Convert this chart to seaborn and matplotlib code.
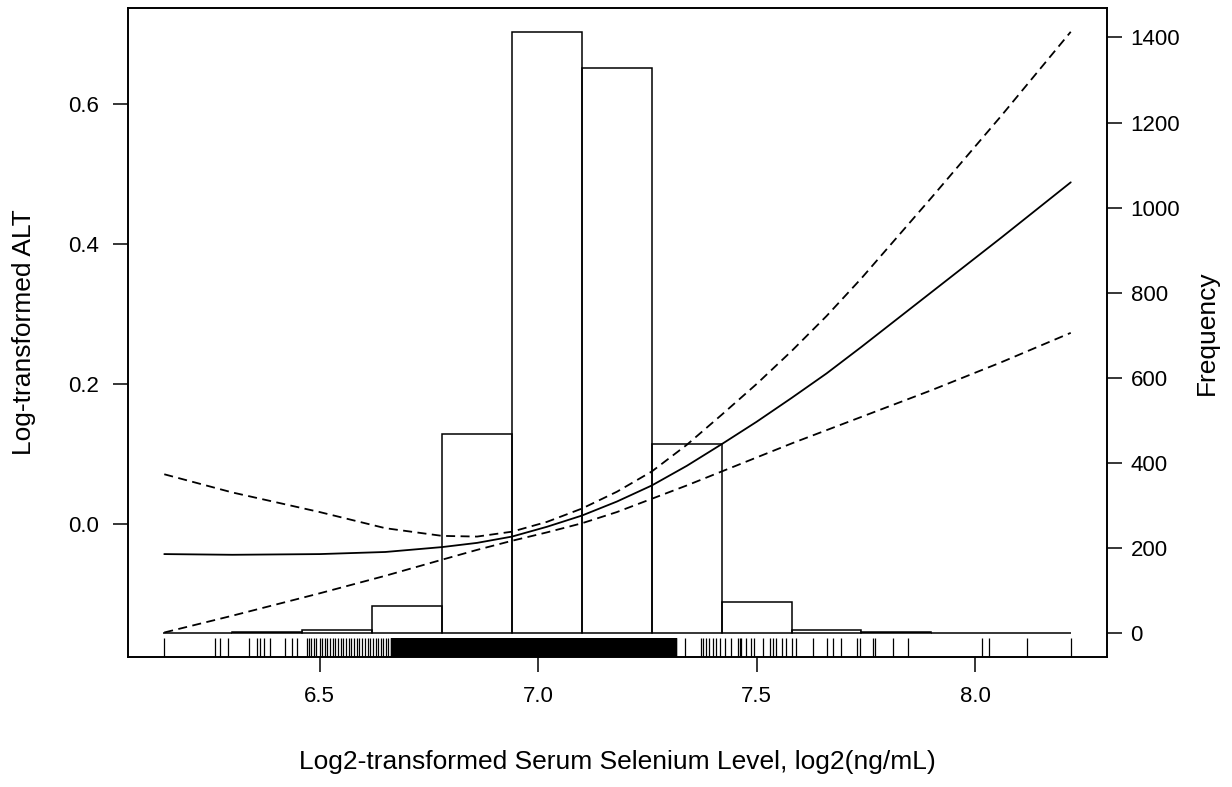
import matplotlib
matplotlib.use("Agg")
import matplotlib.pyplot as plt
import seaborn as sns

# fitted curve + 95% CI
selenium = [6.144, 6.30, 6.50, 6.65, 6.78, 6.86, 6.94, 7.02, 7.10, 7.18, 7.26,
            7.34, 7.42, 7.50, 7.58, 7.66, 7.74, 7.90, 8.06, 8.219]
alt_fit = [-0.043, -0.044, -0.043, -0.040, -0.033, -0.027, -0.018, -0.004, 0.012, 0.032, 0.055,
           0.083, 0.114, 0.146, 0.180, 0.215, 0.253, 0.331, 0.409, 0.488]
alt_upper = [0.071, 0.045, 0.017, -0.006, -0.017, -0.018, -0.011, 0.003, 0.022, 0.046, 0.075,
             0.113, 0.156, 0.200, 0.247, 0.297, 0.351, 0.466, 0.583, 0.703]
alt_lower = [-0.155, -0.131, -0.099, -0.074, -0.051, -0.037, -0.024, -0.012, 0.001, 0.017, 0.036,
             0.055, 0.075, 0.095, 0.115, 0.134, 0.153, 0.191, 0.231, 0.273]

# histogram of selenium (frequency, right axis)
bin_edges = [6.14, 6.30, 6.46, 6.62, 6.78, 6.94, 7.10, 7.26, 7.42, 7.58, 7.74, 7.90, 8.06, 8.22]
bin_counts = [2, 3, 9, 64, 469, 1412, 1329, 446, 74, 9, 3, 2, 2]

# rug: the solid black core and the single ticks in the tails
rug_core = [6.67, 6.68, 6.69, 6.70, 6.71, 6.72, 6.73, 6.74, 6.75, 6.76, 6.77, 6.78, 6.79,
            6.80, 6.81, 6.82, 6.83, 6.84, 6.85, 6.86, 6.87, 6.88, 6.89, 6.90, 6.91, 6.92,
            6.93, 6.94, 6.95, 6.96, 6.97, 6.98, 6.99, 7.00, 7.01, 7.02, 7.03, 7.04, 7.05,
            7.06, 7.07, 7.08, 7.09, 7.10, 7.11, 7.12, 7.13, 7.14, 7.15, 7.16, 7.17, 7.18,
            7.19, 7.20, 7.21, 7.22, 7.23, 7.24, 7.25, 7.26, 7.27, 7.28, 7.29, 7.30, 7.31]
rug_tail = [6.144, 6.261, 6.272, 6.291, 6.337, 6.356, 6.364, 6.373, 6.387, 6.421, 6.436, 6.447,
            6.470, 6.476, 6.481, 6.487, 6.492, 6.500, 6.505, 6.511, 6.517, 6.523, 6.530, 6.535,
            6.541, 6.548, 6.553, 6.560, 6.566, 6.571, 6.578, 6.585, 6.590, 6.596, 6.603, 6.610,
            6.616, 6.622, 6.628, 6.633, 6.640, 6.645, 6.652, 6.657, 6.662,
            7.316, 7.335, 7.373, 7.378, 7.385, 7.392, 7.400, 7.408, 7.415, 7.427, 7.442, 7.457,
            7.461, 7.465, 7.476, 7.488, 7.495, 7.514, 7.530, 7.537, 7.545, 7.557, 7.568, 7.580,
            7.591, 7.629, 7.660, 7.675, 7.694, 7.729, 7.736, 7.767, 7.771, 7.813, 7.847, 8.015,
            8.031, 8.119, 8.219]

sns.set_style("ticks")
plt.rcParams['font.family'] = ['Liberation Sans', 'DejaVu Sans']
plt.rcParams['axes.linewidth'] = 1.2
plt.rcParams['text.color'] = 'black'
plt.rcParams['axes.labelcolor'] = 'black'
plt.rcParams['xtick.color'] = 'black'
plt.rcParams['ytick.color'] = 'black'

fig = plt.figure(figsize=(12.32, 7.87), dpi=100)
ax = fig.add_axes([128 / 1232, 130 / 787, 979 / 1232, 649 / 787])
ax2 = ax.twinx()

# histogram on the right axis
bin_mids = [(a + b) / 2 for a, b in zip(bin_edges[:-1], bin_edges[1:])]
sns.histplot(x=bin_mids, weights=bin_counts, bins=bin_edges, ax=ax2,
             fill=False, color='black', linewidth=1.1)

# curve and CI on the left axis
sns.lineplot(x=selenium, y=alt_fit, ax=ax, color='black', linewidth=1.3, errorbar=None)
sns.lineplot(x=selenium, y=alt_upper, ax=ax, color='black', linewidth=1.3,
             linestyle=(0, (5, 3)), errorbar=None)
sns.lineplot(x=selenium, y=alt_lower, ax=ax, color='black', linewidth=1.3,
             linestyle=(0, (5, 3)), errorbar=None)

# rug along the bottom
sns.rugplot(x=rug_core, ax=ax, height=0.03, color='black', linewidth=4.6)
sns.rugplot(x=rug_tail, ax=ax, height=0.03, color='black', linewidth=0.9)

ax.set_xlim(6.061, 8.302)
ax.set_ylim(-0.190, 0.737)
ax2.set_ylim(-55.5, 1469)

ax.set_xticks([6.5, 7.0, 7.5, 8.0])
ax.set_xticklabels(['6.5', '7.0', '7.5', '8.0'])
ax.set_yticks([0.0, 0.2, 0.4, 0.6])
ax.set_yticklabels(['0.0', '0.2', '0.4', '0.6'])
ax2.set_yticks([0, 200, 400, 600, 800, 1000, 1200, 1400])

ax.tick_params(axis='both', length=11, width=1.1, pad=10, labelsize=16, colors='black')
ax2.tick_params(axis='y', length=11, width=1.1, pad=6, labelsize=16, colors='black')

ax.set_xlabel('Log2-transformed Serum Selenium Level, log2(ng/mL)', fontsize=19, color='black')
ax.set_ylabel('Log-transformed ALT', fontsize=19, color='black')
ax2.set_ylabel('Frequency', fontsize=19, color='black')
ax.xaxis.set_label_coords(0.5, -0.143)
ax.yaxis.set_label_coords(-0.094, 0.5)
ax2.yaxis.set_label_coords(1.090, 0.5)

for a in (ax, ax2):
    for s in a.spines.values():
        s.set_visible(True)
        s.set_color('black')

fig.savefig('out.png', dpi=100)
